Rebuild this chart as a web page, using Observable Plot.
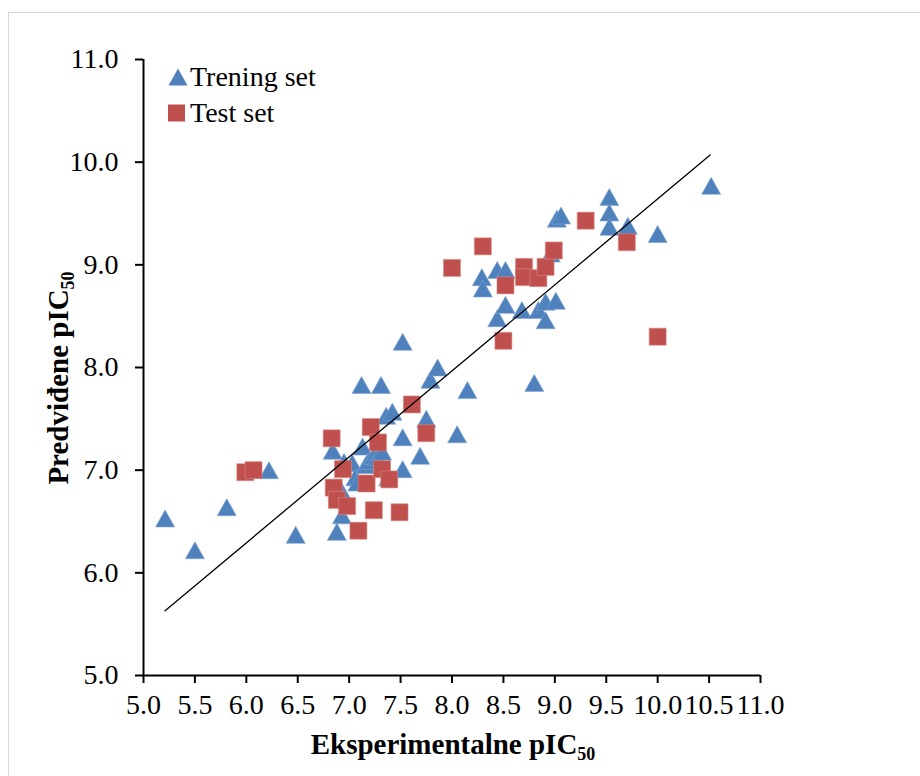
<!DOCTYPE html>
<html>
<head>
<meta charset="utf-8">
<script src="https://cdn.jsdelivr.net/npm/d3@7"></script>
<script src="https://cdn.jsdelivr.net/npm/@observablehq/plot@0.6"></script>
<style>
  body { margin: 0; background: #fff; overflow: hidden; }
  #wrap { position: relative; width: 920px; height: 776px; overflow: hidden; font-family: "Liberation Serif", "Times New Roman", serif; color: #000; }
  #frame { position: absolute; left: 8px; top: 12px; width: 1000px; height: 1000px; border: 1px solid #d9d9d9; }
  #chart { position: absolute; left: 0; top: 0; }
  #chart svg, #chart svg text { font-family: "Liberation Serif", "Times New Roman", serif !important; }
  .ttl { position: absolute; font-weight: bold; font-size: 29px; line-height: 1; white-space: nowrap; }
  .ttl .sub { font-size: 18px; vertical-align: -6px; }
  .leg { position: absolute; font-size: 28px; line-height: 1; white-space: nowrap; display: flex; align-items: center; }
  .leg svg { margin-right: 2px; }
</style>
</head>
<body>
<div id="wrap">
  <div id="frame"></div>
  <div id="chart"></div>
  <div class="leg" style="left:168px; top:63px;"><svg width="20" height="20"><path d="M10,1.5L19.5,18.5L0.5,18.5Z" fill="#4F81BD"/></svg>Trening set</div>
  <div class="leg" style="left:168px; top:99px;"><svg width="20" height="20"><rect x="0" y="1.5" width="17" height="17" fill="#C0504D"/></svg>Test set</div>
  <div class="ttl" style="left:453px; top:730px; transform: translateX(-50%);">Eksperimentalne pIC<span class="sub">50</span></div>
  <div class="ttl" style="left:60px; top:378px; transform: translate(-50%,-50%) rotate(-90deg);">Predviđene pIC<span class="sub">50</span></div>
</div>
<script>
// Training set (triangles)
const trainX = [5.21,5.50,5.81,6.22,6.48,6.84,6.88,6.93,6.93,6.95,7.03,7.06,7.08,7.13,7.16,7.19,7.24,7.27,7.32,7.38,7.12,7.31,7.36,7.42,7.52,7.52,7.52,7.69,7.75,7.79,7.86,8.05,8.15,8.29,8.30,8.44,8.52,8.44,8.52,8.68,8.80,8.84,8.91,8.91,9.01,8.96,9.02,9.06,9.53,9.53,9.53,9.71,10.00,10.52];
const trainY = [6.53,6.22,6.64,7.00,6.37,7.19,6.40,6.56,6.79,7.08,7.07,6.93,6.88,7.23,7.05,7.09,7.14,7.13,7.18,6.93,7.83,7.83,7.53,7.57,8.25,7.32,7.01,7.14,7.50,7.88,8.00,7.35,7.78,8.88,8.77,8.95,8.95,8.48,8.61,8.56,7.85,8.56,8.46,8.64,8.65,9.11,9.45,9.48,9.66,9.51,9.37,9.38,9.30,9.77];
// Test set (squares)
const testX = [5.99,6.07,6.83,6.85,6.88,6.94,6.98,7.09,7.17,7.21,7.24,7.28,7.32,7.39,7.49,7.61,7.75,8.00,8.30,8.50,8.52,8.70,8.70,8.84,8.91,8.99,9.30,9.70,10.00];
const testY = [6.98,7.00,7.31,6.83,6.71,7.01,6.65,6.41,6.87,7.42,6.61,7.27,7.01,6.91,6.59,7.64,7.36,8.97,9.18,8.26,8.80,8.98,8.88,8.87,8.98,9.14,9.43,9.22,8.30];
// Fitted line (end points)
const fitX = [5.21, 10.51];
const fitY = [5.63, 10.07];
// Ticks
const xTicks = [5, 5.5, 6, 6.5, 7, 7.5, 8, 8.5, 9, 9.5, 10, 10.5, 11];
const yTicks = [5, 6, 7, 8, 9, 10, 11];

const triSym = { draw(ctx) { ctx.moveTo(0, -8.5); ctx.lineTo(9.5, 8.5); ctx.lineTo(-9.5, 8.5); ctx.closePath(); } };
const sqSym = { draw(ctx) { ctx.rect(-8.5, -8.5, 17, 17); } };

const fmt = d3.format(".1f");
const chart = Plot.plot({
  width: 920,
  height: 776,
  marginLeft: 143,
  marginRight: 160,
  marginTop: 59,
  marginBottom: 101,
  style: { fontFamily: "'Liberation Serif', 'Times New Roman', serif", fontSize: "28px", background: "transparent", color: "#000" },
  x: { domain: [5, 11], label: null },
  y: { domain: [5, 11], label: null },
  marks: [
    Plot.ruleY([5], { stroke: "#000", strokeWidth: 2 }),
    Plot.ruleX([5], { stroke: "#000", strokeWidth: 2 }),
    Plot.axisX(xTicks, { tickSize: 8, tickPadding: 11, tickFormat: fmt, strokeWidth: 2, fontSize: 28, label: null }),
    Plot.axisY(yTicks, { tickSize: 8, tickPadding: 17, tickFormat: fmt, strokeWidth: 2, fontSize: 28, label: null }),
    Plot.dot(trainY, { x: trainX, y: trainY, symbol: triSym, fill: "#4F81BD", stroke: "#7ea3d3", strokeWidth: 0.6 }),
    Plot.dot(testY, { x: testX, y: testY, symbol: sqSym, fill: "#C0504D", stroke: "#d98a88", strokeWidth: 0.6 }),
    Plot.line(fitY, { x: fitX, y: fitY, stroke: "#000", strokeWidth: 1.3 })
  ]
});
document.getElementById("chart").appendChild(chart);
</script>
</body>
</html>
